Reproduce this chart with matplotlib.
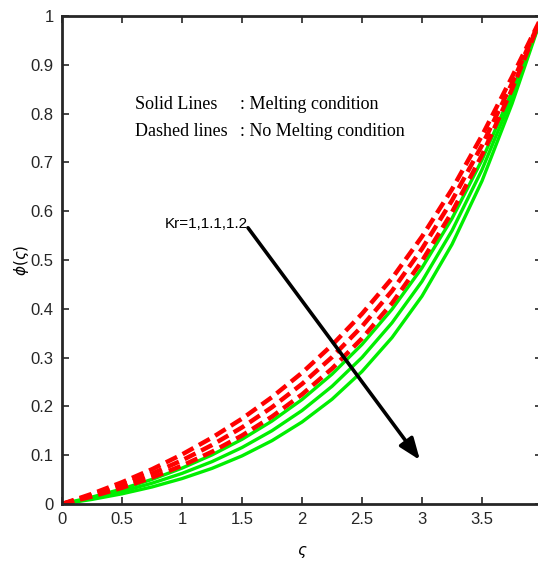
import numpy as np
import matplotlib
matplotlib.use('Agg')
import matplotlib.pyplot as plt

# values, step 0.25 in zeta
zeta = [0, 0.25, 0.5, 0.75, 1, 1.25, 1.5, 1.75, 2, 2.25, 2.5, 2.75, 3, 3.25, 3.5, 3.75, 4]

# dashed: no melting condition, Kr = 1, 1.1, 1.2
dash_kr1 = [0, .0208, .0445, .0712, .1015, .1359, .1748, .219, .2689, .3256, .3898, .4625, .548, .645, .755, .875, 1]
dash_kr2 = [0, .0179, .0385, .0622, .0894, .1208, .1569, .1983, .246, .3009, .364, .4366, .523, .622, .735, .862, 1]
dash_kr3 = [0, .0153, .0332, .0541, .0785, .107, .1403, .1791, .2245, .2774, .3393, .4115, .498, .598, .715, .850, 1]

# solid: melting condition, Kr = 1, 1.1, 1.2
solid_kr1 = [0, .0142, .0308, .0504, .0735, .1006, .1325, .170, .214, .266, .327, .399, .484, .585, .705, .845, 1]
solid_kr2 = [0, .0117, .0258, .0426, .0627, .0868, .1157, .1502, .1915, .2411, .3003, .3713, .4562, .560, .685, .833, 1]
solid_kr3 = [0, .0094, .0209, .0349, .0521, .0730, .0986, .1298, .168, .2146, .2715, .341, .426, .532, .662, .820, 1]

xticks = [0, 0.5, 1, 1.5, 2, 2.5, 3, 3.5, 4]
yticks = [0, 0.1, 0.2, 0.3, 0.4, 0.5, 0.6, 0.7, 0.8, 0.9, 1]

fig = plt.figure(figsize=(5.38, 5.63), dpi=100)
ax = fig.add_axes([62/538, 59/563, 480/538, 488/563])

for y in [solid_kr1, solid_kr2, solid_kr3]:
    ax.plot(zeta, y, color='#00ee00', lw=2.4, solid_joinstyle='round')
for y in [dash_kr1, dash_kr2, dash_kr3]:
    ax.plot(zeta, y, color='red', lw=3.2, dashes=(2.8, 1.4))

ax.set_xlim(0, 4)
ax.set_ylim(0, 1)
ax.set_xticks(xticks)
ax.set_yticks(yticks)
ax.set_xticklabels([('%g' % t) for t in xticks])
ax.set_yticklabels([('%g' % t) for t in yticks])
ax.tick_params(direction='in', length=5, width=1.2, top=True, right=True,
               labelsize=12, pad=6, colors='#262626')
for lab in ax.get_xticklabels() + ax.get_yticklabels():
    lab.set_family('Liberation Sans')
for s in ax.spines.values():
    s.set_linewidth(2)
    s.set_color('#262626')

ax.set_xlabel(r'$\varsigma$', fontsize=11)
ax.xaxis.set_label_coords(0.5, -0.082)
ax.set_ylabel(r'$\phi(\varsigma)$', fontsize=11)
ax.yaxis.set_label_coords(-0.065, 0.5)

ax.text(0.608, 0.818, 'Solid Lines', family='Liberation Serif', fontsize=13, va='center')
ax.text(1.483, 0.818, ': Melting condition', family='Liberation Serif', fontsize=13, va='center')
ax.text(0.608, 0.763, 'Dashed lines', family='Liberation Serif', fontsize=13, va='center')
ax.text(1.483, 0.763, ': No Melting condition', family='Liberation Serif', fontsize=13, va='center')

ax.text(0.858, 0.574, 'Kr=1,1.1,1.2', family='Liberation Sans', fontsize=11, va='center')
ax.annotate('', xy=(2.983, 0.090), xytext=(1.55, 0.566),
            arrowprops=dict(arrowstyle='-|>,head_length=1.3,head_width=0.5',
                            color='black', lw=2.6, shrinkA=0, shrinkB=0))

fig.savefig('out.png', dpi=100)
